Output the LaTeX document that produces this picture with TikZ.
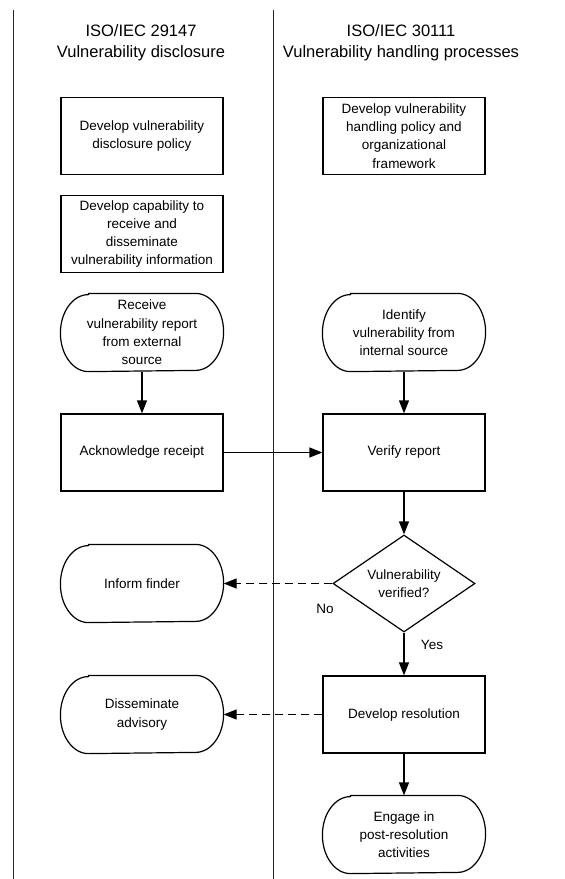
\documentclass[tikz,border=0pt]{standalone}
\usepackage{fontspec}
\setmainfont{Liberation Sans}
\usetikzlibrary{shapes.geometric,arrows.meta}
\newcommand{\bodyfont}{\fontsize{13.5}{18.3}\selectfont}
\newcommand{\headfont}{\fontsize{16.5}{21}\selectfont}
\begin{document}
\begin{tikzpicture}[x=1pt,y=-1pt,
  lane/.style={line width=1pt,draw=black!85},
  box/.style={draw,line width=1.2pt,minimum width=162pt,minimum height=77pt,align=center,inner sep=0pt,font=\bodyfont},
  term/.style={box,draw=none},
  termline/.style={draw,line width=1.2pt},
  dia/.style={draw,diamond,line width=1.2pt,minimum width=142pt,minimum height=97pt,aspect=1.46,align=center,inner sep=0pt,font=\bodyfont},
  head/.style={align=center,font=\headfont,inner sep=0pt},
  lbl/.style={font=\bodyfont,inner sep=0pt},
  arr/.style={-{Triangle[length=13pt,width=10pt]},line width=1.2pt},
  dasharr/.style={arr,dash pattern=on 8pt off 5pt}]
\useasboundingbox (0,0) rectangle (565,879);
% lanes
\coordinate (l1t) at (13,10);
\coordinate (l1b) at (13,879);
\coordinate (l2t) at (273,10);
\coordinate (l2b) at (273,879);
\draw[lane] (l1t) -- (l1b);
\draw[lane] (l2t) -- (l2b);
% headers
\node[head] (h1) at (141,43) {ISO/IEC 29147\\Vulnerability disclosure};
\node[head] (h2) at (401,43) {ISO/IEC 30111\\Vulnerability handling processes};
% left column
\node[box] (policy) at (142,136) {Develop vulnerability\\disclosure policy};
\node[box] (capab) at (142,234) {Develop capability to\\receive and\\disseminate\\vulnerability information};
\node[term] (receive) at (142,332.5) {Receive\\vulnerability report\\from external\\source};
\node[box] (ack) at (142,452.5) {Acknowledge receipt};
\node[term] (inform) at (142,583.5) {Inform finder};
\node[term] (dissem) at (142,714.5) {Disseminate\\advisory};
% right column
\node[box] (hpolicy) at (404,136) {Develop vulnerability\\handling policy and\\organizational\\framework};
\node[term] (identify) at (404,332.5) {Identify\\vulnerability from\\internal source};
\node[box] (verify) at (404,452.5) {Verify report};
\node[dia] (verified) at (404,583.5) {Vulnerability\\verified?};
\node[box] (resol) at (404,714.5) {Develop resolution};
\node[term] (engage) at (404,834.5) {Engage in\\post-resolution\\activities};
% terminal outlines (straight top and bottom, elliptic ends)
\foreach \n in {receive,inform,dissem,identify,engage}{
  \draw[termline] ([xshift=28pt]\n.north west) -- ([xshift=-28pt]\n.north east)
    arc[start angle=90,end angle=-90,x radius=28pt,y radius=38.5pt]
    -- ([xshift=28pt]\n.south west)
    arc[start angle=270,end angle=90,x radius=28pt,y radius=38.5pt] -- cycle;
}
% labels
\node[lbl] (no) at (325,609) {No};
\node[lbl] (yes) at (432,645) {Yes};
% connectors
\draw[arr] (receive) -- (ack);
\draw[arr] (identify) -- (verify);
\draw[arr] (ack) -- (verify);
\draw[arr] (verify) -- (verified);
\draw[arr] (verified) -- (resol);
\draw[arr] (resol) -- (engage);
\draw[dasharr] (verified) -- (inform);
\draw[dasharr] (resol) -- (dissem);
\end{tikzpicture}
\end{document}
